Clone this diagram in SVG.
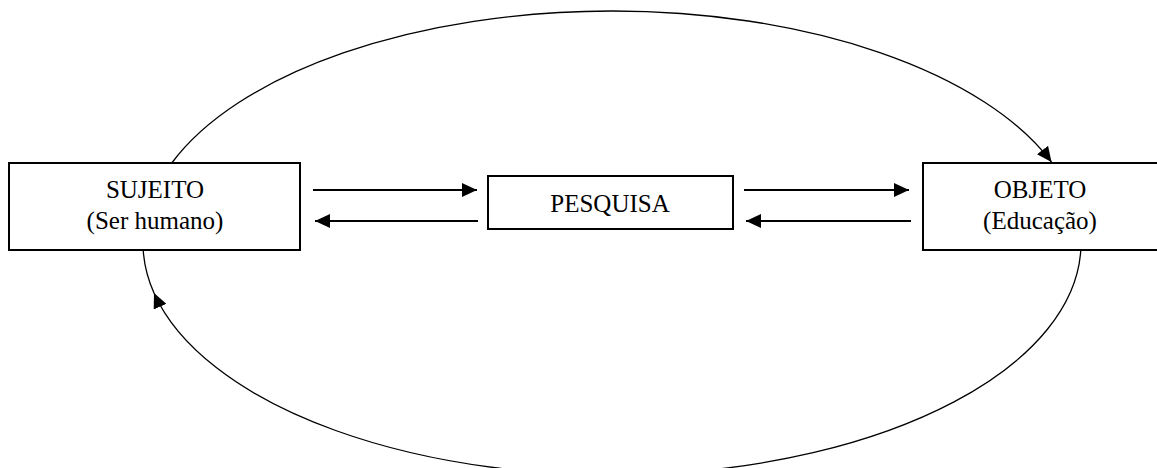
<svg xmlns="http://www.w3.org/2000/svg" width="1157" height="468" viewBox="0 0 1157 468">
<style>
.box{fill:#fff;stroke:#000;stroke-width:2}
.t{font-family:'Liberation Serif','Times New Roman','DejaVu Serif',serif;font-size:25px;fill:#000;text-anchor:middle}
.arr{fill:none;stroke:#000;stroke-width:2.2}
.arc{fill:none;stroke:#000;stroke-width:1.3}
</style>
<defs>
<marker id="ah" markerUnits="userSpaceOnUse" markerWidth="16" markerHeight="14" refX="15" refY="7" orient="auto">
<path d="M0,0 L15,7 L0,14 Z" fill="#000"/>
</marker>
</defs>
<rect width="1157" height="468" fill="#fff"/>
<g id="connectors">
<path class="arc" d="M171.8 163 A469 232 0 0 1 1051.5 162" marker-end="url(#ah)"/>
<path class="arc" d="M1080.8 250 A469 232 0 0 1 154 293" marker-end="url(#ah)"/>
<path class="arc" d="M154 293 A469 232 0 0 1 143.2 250"/>
<path class="arr" d="M313 190 L477 190" marker-end="url(#ah)"/>
<path class="arr" d="M478 221 L315 221" marker-end="url(#ah)"/>
<path class="arr" d="M744 190 L909 190" marker-end="url(#ah)"/>
<path class="arr" d="M911 221 L746 221" marker-end="url(#ah)"/>
</g>
<g id="sujeito">
<rect class="box" x="9" y="163" width="291" height="87"/>
<text class="t" font-family="Liberation Serif, serif" x="155" y="198">SUJEITO</text>
<text class="t" font-family="Liberation Serif, serif" x="155" y="229">(Ser humano)</text>
</g>
<g id="pesquisa">
<rect class="box" x="488" y="176" width="245" height="53"/>
<text class="t" font-family="Liberation Serif, serif" x="610" y="212">PESQUISA</text>
</g>
<g id="objeto">
<rect class="box" x="923" y="163" width="240" height="87"/>
<text class="t" font-family="Liberation Serif, serif" x="1040" y="198">OBJETO</text>
<text class="t" font-family="Liberation Serif, serif" x="1040" y="229">(Educação)</text>
</g>
</svg>
